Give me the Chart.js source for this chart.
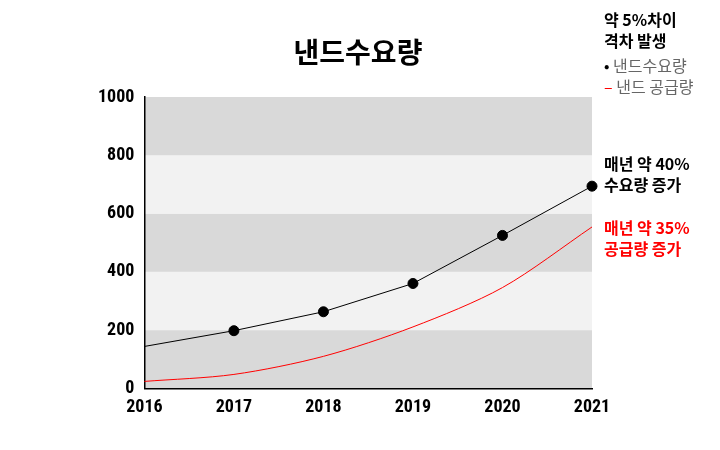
<!DOCTYPE html>
<html>
<head>
<meta charset="utf-8">
<script src="https://cdn.jsdelivr.net/npm/chart.js@4"></script>
<style>
  body { margin: 0; background: #fff; }
  #wrap { position: relative; width: 720px; height: 450px; }
  .note { position: absolute; left: 604px; font-family: "Noto Sans CJK KR", sans-serif; font-size: 16px; line-height: 21px; white-space: nowrap; }
  .bold { font-weight: 700; }
  #title { position: absolute; left: 258px; width: 200px; top: 33px; text-align: center; font-family: "Noto Sans CJK KR", sans-serif; font-size: 28px; font-weight: 700; line-height: 36px; }
</style>
</head>
<body>
<div id="wrap">
  <canvas id="myChart" width="720" height="450"></canvas>
  <div id="title">낸드수요량</div>
  <div class="note bold" style="top:9px;color:#000">약 5%차이<br>격차 발생</div>
  <div class="note" style="top:55px;color:#666"><span style="color:#000">•</span> 낸드수요량<br><span style="color:#f00">–</span> 낸드 공급량</div>
  <div class="note bold" style="top:153px;color:#000">매년 약 40%<br>수요량 증가</div>
  <div class="note bold" style="top:217px;color:#f00">매년 약 35%<br>공급량 증가</div>
</div>
<script>
const years = ['2016', '2017', '2018', '2019', '2020', '2021'];
const demand = [144, 198, 263, 360, 525, 694];
const supply = [24, 48, 110, 211, 346, 554];
const bandEdges = [0, 200, 400, 600, 800, 1000];
const bandColors = ['#d9d9d9', '#f2f2f2', '#d9d9d9', '#f2f2f2', '#d9d9d9'];

const bands = {
  id: 'bands',
  beforeDraw(chart) {
    const c = chart.ctx, a = chart.chartArea, y = chart.scales.y;
    for (let i = 0; i < bandColors.length; i++) {
      const top = y.getPixelForValue(bandEdges[i + 1]);
      const bot = y.getPixelForValue(bandEdges[i]);
      c.fillStyle = bandColors[i];
      c.fillRect(a.left, top, a.right - a.left, bot - top);
    }
  }
};

const tickFont = { family: '"Liberation Sans Narrow", "Roboto Condensed", Roboto, sans-serif', size: 18, weight: 'bold' };

new Chart(document.getElementById('myChart'), {
  type: 'line',
  data: {
    labels: years,
    datasets: [{
      label: '낸드수요량',
      data: demand,
      borderColor: '#000',
      backgroundColor: '#000',
      borderWidth: 1,
      pointRadius: [0, 5, 5, 5, 5, 5],
      tension: 0
    }, {
      label: '낸드 공급량',
      data: supply,
      borderColor: '#f00',
      borderWidth: 1,
      pointRadius: 0,
      tension: 0.3
    }]
  },
  options: {
    responsive: false,
    animation: false,
    layout: { padding: { left: 88, right: 128, top: 97, bottom: 24 } },
    plugins: {
      legend: { display: false },
      tooltip: { enabled: false },
      title: { display: false }
    },
    scales: {
      x: {
        grid: { display: false, drawTicks: false },
        border: { color: '#000', width: 1.5 },
        ticks: { color: '#000', font: tickFont, padding: 8, maxRotation: 0 }
      },
      y: {
        min: 0, max: 1000,
        grid: { display: false, drawTicks: false },
        border: { color: '#000', width: 1.5 },
        ticks: { color: '#000', font: tickFont, stepSize: 200, padding: 10, callback: v => String(v) }
      }
    }
  },
  plugins: [bands]
});
</script>
</body>
</html>
